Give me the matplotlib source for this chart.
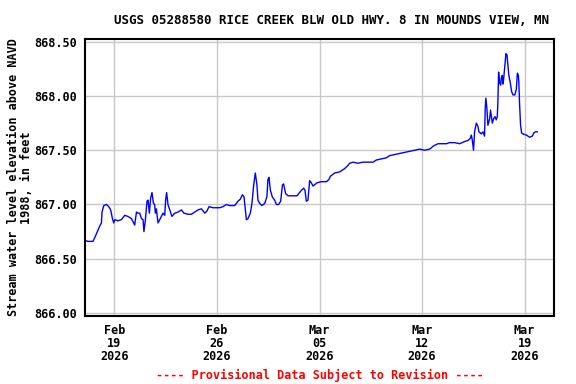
import matplotlib
matplotlib.use("Agg")
import matplotlib.pyplot as plt
import pandas as pd

# Days since 2026-02-17 00:00 and water level (ft)
days = [0.00, 0.20, 0.55, 0.78, 1.00, 1.12, 1.16, 1.28, 1.46, 1.62, 1.75, 1.87, 1.96, 2.03, 2.25,
        2.48, 2.71, 2.93, 3.17, 3.32, 3.39, 3.51, 3.62, 3.73, 3.85, 3.96, 4.02, 4.12, 4.23, 4.30,
        4.39, 4.48, 4.57, 4.67, 4.75, 4.80, 4.87, 4.98, 5.10, 5.21, 5.32, 5.44, 5.50, 5.57, 5.66,
        5.78, 5.93, 6.12, 6.34, 6.58, 6.75, 7.03, 7.26, 7.48, 7.71, 7.94, 8.12, 8.17, 8.32, 8.46,
        8.73, 8.96, 9.19, 9.41, 9.65, 9.87, 10.21, 10.44, 10.60, 10.74, 10.85, 10.94, 11.01, 11.12,
        11.28, 11.39, 11.51, 11.62, 11.73, 11.80, 11.92, 12.07, 12.26, 12.41, 12.48, 12.55, 12.65,
        12.78, 12.94, 13.06, 13.21, 13.35, 13.47, 13.55, 13.69, 13.85, 14.19, 14.46, 14.58, 14.76,
        14.92, 15.01, 15.10, 15.21, 15.33, 15.44, 15.56, 15.83, 16.13, 16.47, 16.64, 16.74, 17.03,
        17.37, 17.71, 17.94, 18.06, 18.28, 18.62, 18.96, 19.30, 19.65, 19.88, 20.22, 20.56, 20.78,
        21.13, 21.47, 21.81, 22.15, 22.49, 22.83, 23.17, 23.51, 23.79, 24.08, 24.20, 24.65, 24.88,
        25.22, 25.56, 25.90, 26.13, 26.29, 26.36, 26.43, 26.51, 26.58, 26.70, 26.81, 26.88, 27.04,
        27.15, 27.26, 27.31, 27.35, 27.42, 27.49, 27.61, 27.67, 27.79, 27.88, 27.97, 28.06, 28.13,
        28.17, 28.22, 28.29, 28.36, 28.40, 28.47, 28.51, 28.56, 28.65, 28.72, 28.79, 28.85, 28.92,
        29.02, 29.11, 29.20, 29.33, 29.43, 29.50, 29.57, 29.60, 29.65, 29.72, 29.79, 29.88, 30.11,
        30.33, 30.52, 30.63, 30.74, 30.86]
levels = [866.67, 866.66, 866.66, 866.73, 866.80, 866.83, 866.93, 866.99, 867.00, 866.98, 866.95,
          866.87, 866.83, 866.86, 866.85, 866.86, 866.90, 866.89, 866.87, 866.83, 866.81, 866.93,
          866.92, 866.92, 866.87, 866.86, 866.75, 866.86, 867.03, 867.04, 866.92, 867.06, 867.11,
          867.01, 867.00, 866.92, 866.96, 866.83, 866.86, 866.89, 866.92, 866.90, 867.04, 867.11,
          867.00, 866.95, 866.89, 866.92, 866.93, 866.95, 866.92, 866.91, 866.91, 866.93, 866.95,
          866.96, 866.93, 866.92, 866.94, 866.98, 866.97, 866.97, 866.97, 866.98, 867.00, 866.99,
          866.99, 867.03, 867.05, 867.09, 867.07, 866.95, 866.86, 866.87, 866.92, 867.01, 867.18,
          867.29, 867.18, 867.04, 867.01, 866.99, 867.01, 867.07, 867.23, 867.25, 867.13, 867.07,
          867.04, 867.00, 867.00, 867.03, 867.18, 867.19, 867.10, 867.08, 867.08, 867.08, 867.10,
          867.13, 867.15, 867.13, 867.03, 867.04, 867.22, 867.20, 867.17, 867.20, 867.21, 867.21,
          867.23, 867.26, 867.29, 867.30, 867.33, 867.36, 867.38, 867.39, 867.38, 867.39, 867.39,
          867.39, 867.41, 867.42, 867.43, 867.45, 867.46, 867.47, 867.48, 867.49, 867.50, 867.51,
          867.50, 867.51, 867.54, 867.56, 867.56, 867.56, 867.57, 867.57, 867.56, 867.58, 867.59,
          867.61, 867.64, 867.59, 867.50, 867.67, 867.75, 867.72, 867.67, 867.65, 867.67, 867.63,
          867.89, 867.98, 867.89, 867.73, 867.79, 867.87, 867.75, 867.79, 867.81, 867.78, 867.81,
          867.93, 868.22, 868.12, 868.10, 868.16, 868.19, 868.11, 868.15, 868.29, 868.39, 868.38,
          868.29, 868.19, 868.12, 868.04, 868.01, 868.01, 868.06, 868.21, 868.19, 868.13, 867.93,
          867.73, 867.66, 867.65, 867.64, 867.62, 867.63, 867.66, 867.67, 867.67]

title = "USGS 05288580 RICE CREEK BLW OLD HWY. 8 IN MOUNDS VIEW, MN"
ylabel = "Stream water level elevation above NAVD\n1988, in feet"
footer = "---- Provisional Data Subject to Revision ----"
yticks = [866.0, 866.5, 867.0, 867.5, 868.0, 868.5]
xtick_dates = ["2026-02-19", "2026-02-26", "2026-03-05", "2026-03-12", "2026-03-19"]

start = pd.Timestamp("2026-02-17")
times = start + pd.to_timedelta(days, unit="D")

mono = "DejaVu Sans Mono"
fig = plt.figure(figsize=(5.76, 3.84), dpi=100)
ax = fig.add_axes([0.1476, 0.177, 0.8142, 0.7214])
ax.plot(times, levels, color="#0000ff", linewidth=1.0)

ax.set_xlim(pd.Timestamp("2026-02-17"), pd.Timestamp("2026-03-21"))
ax.set_ylim(865.972, 868.525)
ax.set_yticks(yticks)
ax.set_yticklabels([f"{v:.2f}" for v in yticks], fontfamily=mono, fontweight="bold", fontsize=8.5)
xt = pd.to_datetime(xtick_dates)
ax.set_xticks(xt)
ax.set_xticklabels([d.strftime("%b\n%d\n%Y") for d in xt], fontfamily=mono, fontweight="bold",
                   fontsize=8.5, linespacing=1.0)
ax.tick_params(axis="both", length=0, pad=6)
ax.grid(True, color="#c8c8c8", linewidth=1.0)
ax.set_axisbelow(True)
for s in ax.spines.values():
    s.set_linewidth(1.5)
    s.set_color("black")

ax.set_ylabel(ylabel, fontfamily=mono, fontweight="bold", fontsize=8.5, linespacing=1.0, labelpad=1)
fig.text(331 / 576, 1 - 20 / 384, title, ha="center", va="center", fontfamily=mono,
         fontweight="bold", fontsize=9)
fig.text(319.5 / 576, 1 - 375 / 384, footer, ha="center", va="center", fontfamily=mono,
         fontweight="bold", fontsize=8.5, color="red")

fig.savefig("out.png", dpi=100)
